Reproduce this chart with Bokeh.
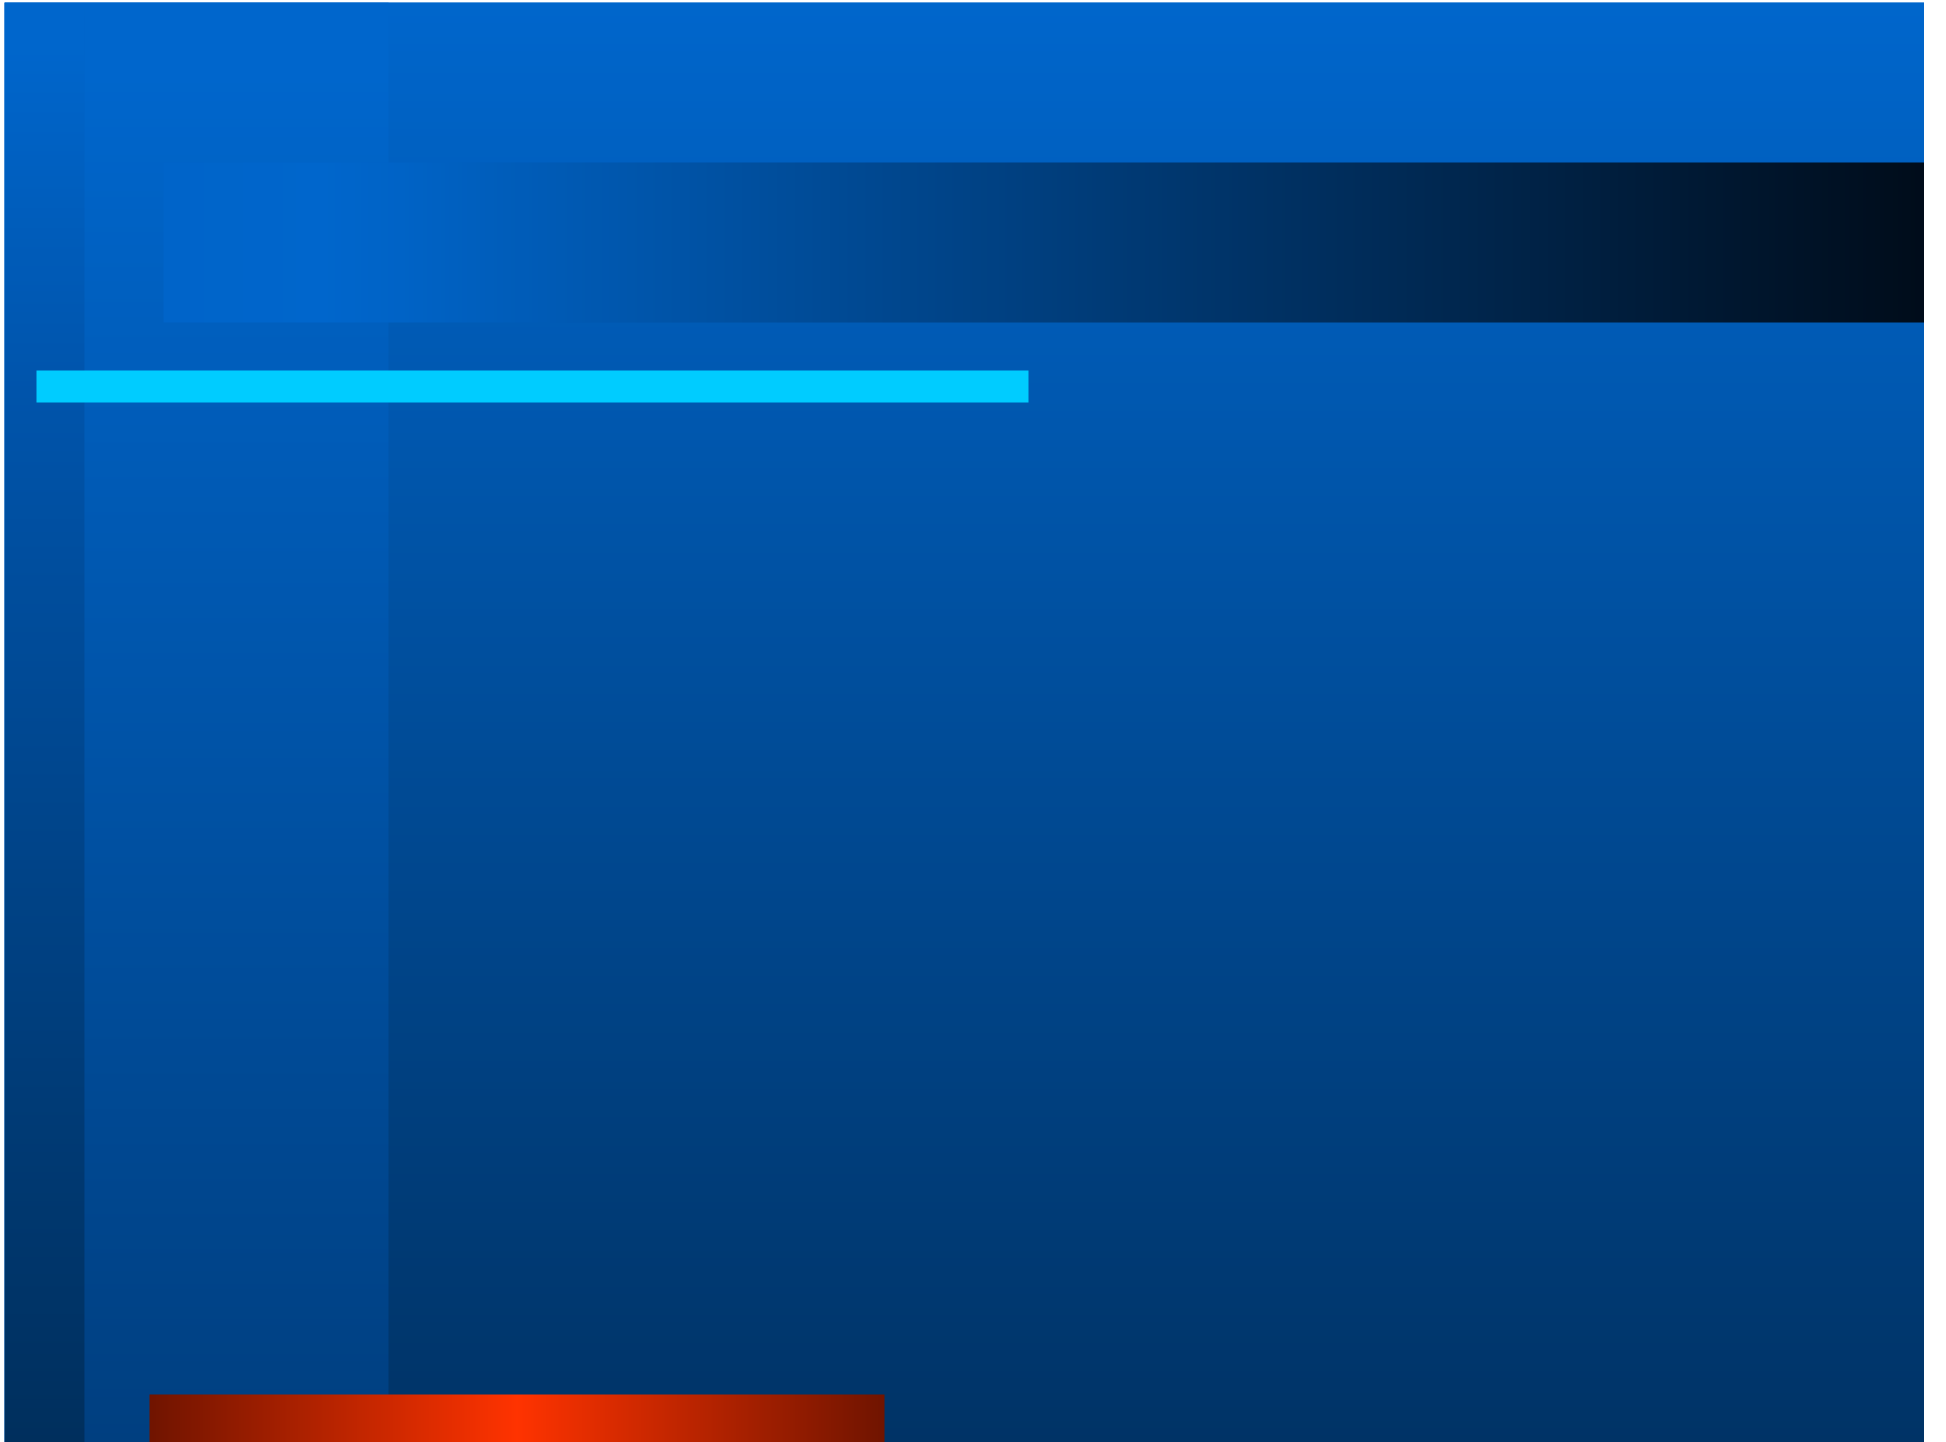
import numpy as np
from bokeh.plotting import figure
from bokeh.models import Range1d
from bokeh.embed import file_html
from bokeh.resources import INLINE

W, H = 1920, 1440

# Slide panels (pixel frame, measured top-down from the slide's top-left corner)
panel_names  = ["background", "left_strip", "column", "header_band", "accent_bar", "footer_bar"]
panel_left   = [0,    0,    80,   159,  32,   145]
panel_right  = [1920, 80,   384,  1920, 1024, 880]
panel_top    = [0,    0,    0,    160,  368,  1392]
panel_bottom = [1440, 1440, 1440, 320,  400,  1440]

# Colour stops of each panel (position 0..1 along its gradient direction, colour)
stops_background  = [(0.0, "#0066cc"), (1.0, "#003366")]
stops_left_strip  = [(0.0, "#0066cc"), (0.03, "#0066cc"), (0.27, "#0054ab"), (1.0, "#002f5d")]
stops_column      = [(0.0, "#0066cc"), (0.05, "#0066cc"), (1.0, "#003f80")]
stops_header_band = [(0.0, "#0064c9"), (0.09, "#0066cc"), (0.135, "#0063c6"), (1.0, "#000c1a")]
stops_footer_bar  = [(0.0, "#701400"), (0.5, "#ff3300"), (1.0, "#701400")]
accent_colour = "#00ccff"


def gradient(stops, n):
    pos = np.array([s[0] for s in stops], float)
    cols = np.array([[int(c[i:i + 2], 16) for i in (1, 3, 5)] for _, c in stops], float)
    t = (np.arange(n) + 0.5) / n
    return np.stack([np.interp(t, pos, cols[:, k]) for k in range(3)], axis=1).round().astype(np.uint8)


def rgba_image(rgb, vertical):
    n = len(rgb)
    if vertical:
        rgb = rgb[::-1]  # image row 0 is drawn at the bottom
        img = np.empty((n, 1), dtype=np.uint32)
        view = img.view(dtype=np.uint8).reshape((n, 1, 4))
        view[:, 0, 0:3] = rgb
        view[:, 0, 3] = 255
    else:
        img = np.empty((1, n), dtype=np.uint32)
        view = img.view(dtype=np.uint8).reshape((1, n, 4))
        view[0, :, 0:3] = rgb
        view[0, :, 3] = 255
    return img


p = figure(width=W, height=H, output_backend="svg", toolbar_location=None,
           x_range=Range1d(0, W), y_range=Range1d(0, H),
           min_border=0, margin=(2, 0, 0, 4))
p.axis.visible = False
p.grid.visible = False
p.outline_line_color = None
p.background_fill_color = "#0066cc"
p.border_fill_color = None


def panel(i):
    x0, x1 = panel_left[i], panel_right[i]
    y0, y1 = H - panel_bottom[i], H - panel_top[i]
    return x0, y0, x1 - x0, y1 - y0


def draw_gradient(name, stops, vertical):
    i = panel_names.index(name)
    x, y, dw, dh = panel(i)
    n = int(dh) if vertical else int(dw)
    img = rgba_image(gradient(stops, n), vertical)
    p.image_rgba(image=[img], x=x, y=y, dw=dw, dh=dh)


draw_gradient("background", stops_background, True)
draw_gradient("left_strip", stops_left_strip, True)
draw_gradient("column", stops_column, True)
draw_gradient("header_band", stops_header_band, False)

ia = panel_names.index("accent_bar")
p.quad(left=[panel_left[ia]], right=[panel_right[ia]],
       bottom=[H - panel_bottom[ia]], top=[H - panel_top[ia]],
       fill_color=accent_colour, line_color=None)

draw_gradient("footer_bar", stops_footer_bar, False)

open("out.html", "w").write(file_html(p, INLINE))
